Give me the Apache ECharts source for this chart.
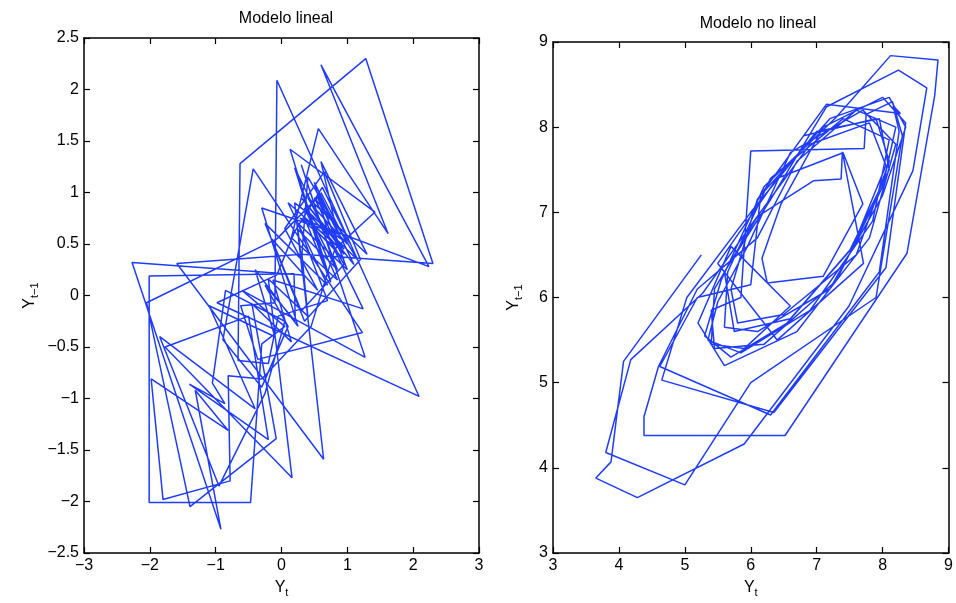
<!DOCTYPE html>
<html>
<head>
<meta charset="utf-8">
<title>Modelo lineal / Modelo no lineal</title>
<script src="https://cdn.jsdelivr.net/npm/echarts@6/dist/echarts.min.js"></script>
<style>
  html, body { margin: 0; padding: 0; background: #fff; }
  #chart { width: 956px; height: 603px; }
</style>
</head>
<body>
<div id="chart"></div>
<script>
// Time series of each model; every point is drawn as (Y_t, Y_{t-1}).
const serieLineal = [
  0.45, 0.95, 0.30, 1.10, 0.50, 0.75,
  0.28, 2.24, 0.60, 1.62, 0.56, 0.15,
  0.85, 0.35, 1.15, 0.40, 0.31, 2.30, 1.28, -0.63, -0.66,
  -0.20, -0.05, 0.70, 0.25, 1.00, 0.55, 0.90, 0.20, 0.32,
  -2.27, -0.92, -1.31, -0.81, -1.98, -1.80, -0.78, -0.81, -0.30,
  0.45, 0.81, 1.42, 0.13, 0.75, 0.35, 0.95, 0.50, 1.05, 0.62, 0.20,
  -0.07, -0.98, 2.09, -0.07, -0.10, -0.62,
  -0.36, 1.23, -0.43, -0.89, -0.30, 0.10, -0.25,
  0.21, 0.19, -2.01, -2.01, -0.47, -0.30, 0.05,
  -0.60, 1.27, 0.30, 0.80, 0.40, 0.95, 0.55,
  -0.07, -2.05, -1.39, -0.08, -0.45, 0.15,
  -0.13, 1.24, 0.20, 0.70, 0.45,
  0.90, 0.10, 0.70, -0.25, 0.35, 1.20, 0.65, 0.05, 0.55, -0.15,
  0.30, 0.95, 0.40, 1.30, 0.60, 0.85, -0.30, 0.25, -0.40, -0.10,
  -1.10, -0.40, -1.85, -0.95, -0.25,
  0.05, -0.85, -1.05, -0.86, -1.40, -0.20,
  -0.50, -1.77, 0.16, -0.20, 0.40,
  0.31, -1.59, 0.64, 0.25, 0.85, 0.50, 1.00, 0.60
];

const serieNoLineal = [
  6.50, 5.25, 4.07, 3.88, 3.65, 4.28, 5.90, 7.49, 8.46, 8.67, 8.24, 7.15,
  6.30, 5.60, 5.75, 6.60, 7.55, 8.05, 7.80, 6.90, 6.05,
  5.27, 4.18, 3.80, 5.00, 6.00, 7.90, 8.30, 8.15, 7.75, 7.72, 6.00, 5.85,
  5.40, 5.45, 6.20, 7.30, 8.00, 8.20, 7.60, 6.70,
  6.10, 5.19, 4.60, 4.38, 4.38, 6.52, 8.37, 8.79, 8.84, 8.12, 7.30,
  6.20, 5.55, 5.30, 5.70, 6.55, 7.50, 8.10, 7.95, 7.00,
  6.00, 5.03, 4.65, 6.35, 8.05, 8.35, 8.00, 7.10,
  6.46, 6.17, 6.25, 7.10, 7.70, 7.40,
  6.40, 5.50, 6.40, 7.71, 7.39, 7.37, 6.95, 6.10, 5.45, 5.40, 5.90,
  6.60, 5.70, 5.20, 5.60, 6.70, 7.80, 8.20, 7.70, 6.60,
  5.95, 5.50, 5.35, 5.85, 6.90, 7.85, 8.10, 7.40, 6.30,
  5.65, 5.60, 6.10, 7.20, 8.00, 8.35, 8.10, 7.20, 6.15,
  6.00, 5.19, 4.62, 6.30, 7.95, 8.25, 8.16, 8.27, 7.15, 6.10, 5.70, 5.80,
  6.50, 7.60, 8.10, 7.90, 6.80
];

const titulos = ['Modelo lineal', 'Modelo no lineal'];
const nombreX = '{m|Y}{s|t}';
const nombreY = '{m|Y}{s|t\u22121}';
const rangoLineal = { xMin: -3, xMax: 3, xPaso: 1, yMin: -2.5, yMax: 2.5, yPaso: 0.5 };
const rangoNoLineal = { xMin: 3, xMax: 9, xPaso: 1, yMin: 3, yMax: 9, yPaso: 1 };

// Build the lagged pairs (Y_t, Y_{t-1}) from a series
function paresRetardados(s) {
  const out = [];
  for (let i = 1; i < s.length; i++) out.push([s[i], s[i - 1]]);
  return out;
}

const AZUL = '#1f3cff';
const NEGRO = '#000';
const FUENTE = 'Liberation Sans';
const fmt = v => String(v).replace('-', '\u2212');

// Subscript: the small part sits lower than the main letter
const richNombre = {
  m: { fontSize: 16, color: NEGRO, fontFamily: FUENTE },
  s: { fontSize: 11, color: NEGRO, fontFamily: FUENTE, padding: [10, 0, 0, 0] }
};

function ejeBase(extra) {
  return Object.assign({
    type: 'value',
    axisLine: { show: true, onZero: false, lineStyle: { color: NEGRO, width: 1.5 } },
    axisTick: { show: true, inside: true, length: 6, lineStyle: { color: NEGRO, width: 1.2 } },
    splitLine: { show: false },
    axisLabel: { formatter: fmt, fontSize: 16, color: NEGRO, fontFamily: FUENTE, margin: 5 }
  }, extra);
}

function ejesPanel(g, r, gapY) {
  const xs = [
    ejeBase({ gridIndex: g, position: 'bottom', min: r.xMin, max: r.xMax, interval: r.xPaso,
      name: nombreX, nameLocation: 'middle', nameGap: 24,
      nameTextStyle: { rich: richNombre } }),
    ejeBase({ gridIndex: g, position: 'top', min: r.xMin, max: r.xMax, interval: r.xPaso,
      axisLabel: { show: false } })
  ];
  const ys = [
    ejeBase({ gridIndex: g, position: 'left', min: r.yMin, max: r.yMax, interval: r.yPaso,
      name: nombreY, nameLocation: 'middle', nameGap: gapY, nameRotate: 90,
      nameTextStyle: { rich: richNombre } }),
    ejeBase({ gridIndex: g, position: 'right', min: r.yMin, max: r.yMax, interval: r.yPaso,
      axisLabel: { show: false } })
  ];
  return { xs, ys };
}

const p0 = ejesPanel(0, rangoLineal, 44);
const p1 = ejesPanel(1, rangoNoLineal, 29);

const chart = echarts.init(document.getElementById('chart'), null, { renderer: 'canvas' });
chart.setOption({
  animation: false,
  backgroundColor: '#fff',
  title: [
    { text: titulos[0], left: 281, top: 6, textAlign: 'center',
      textStyle: { fontSize: 16, fontWeight: 'normal', color: NEGRO, fontFamily: FUENTE } },
    { text: titulos[1], left: 753, top: 11, textAlign: 'center',
      textStyle: { fontSize: 16, fontWeight: 'normal', color: NEGRO, fontFamily: FUENTE } }
  ],
  grid: [
    { left: 84, top: 38, width: 395, height: 519 },
    { left: 553, top: 42, width: 401, height: 511 }
  ],
  xAxis: p0.xs.concat(p1.xs),
  yAxis: p0.ys.concat(p1.ys),
  series: [
    { type: 'line', xAxisIndex: 0, yAxisIndex: 0, data: paresRetardados(serieLineal),
      showSymbol: false, lineStyle: { color: AZUL, width: 1.5 }, z: 1 },
    { type: 'line', xAxisIndex: 2, yAxisIndex: 2, data: paresRetardados(serieNoLineal),
      showSymbol: false, lineStyle: { color: AZUL, width: 1.5 }, z: 1 }
  ]
});
</script>
</body>
</html>
